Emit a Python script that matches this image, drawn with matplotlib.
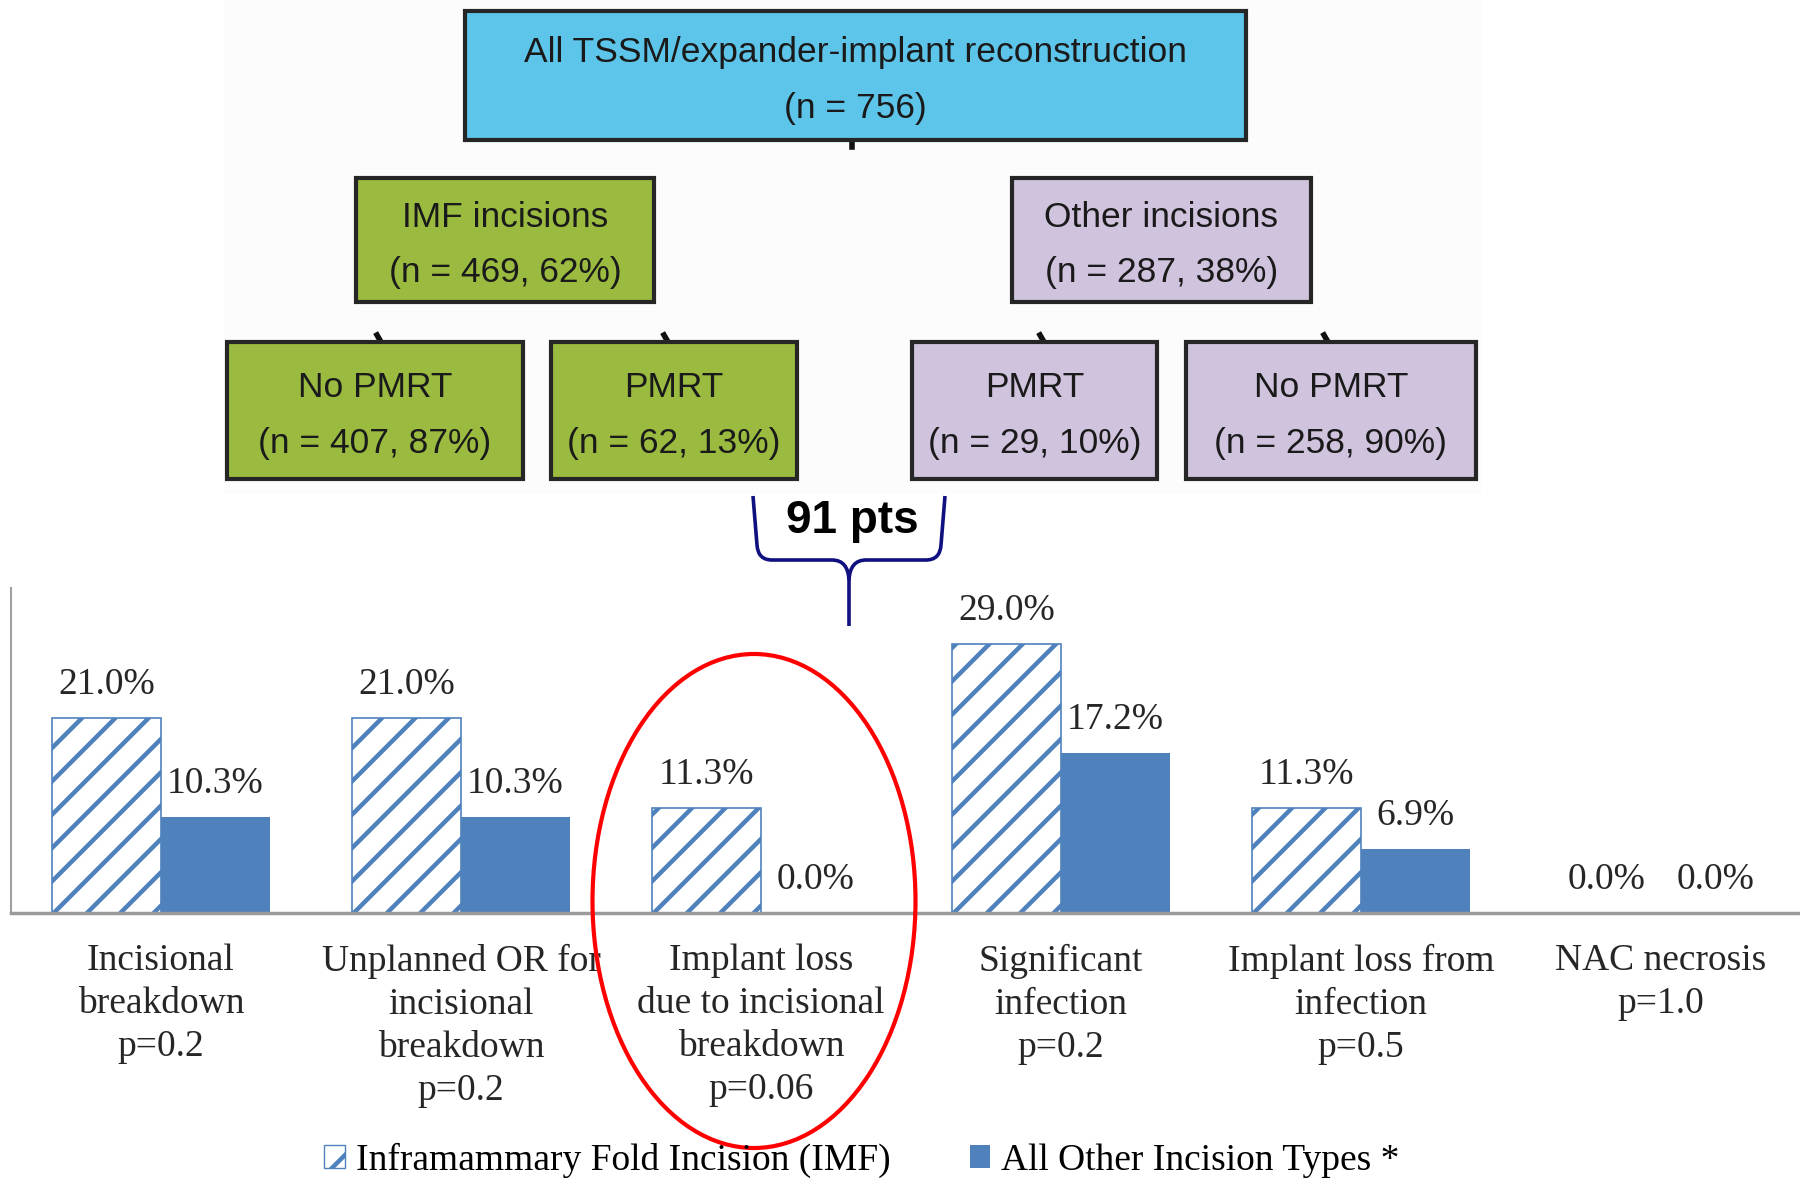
import numpy as np
import matplotlib.pyplot as plt
from matplotlib.patches import Rectangle, Ellipse, Patch, PathPatch
from matplotlib.path import Path

# bar chart data
categories = ["Incisional\nbreakdown\np=0.2",
              "Unplanned OR for\nincisional\nbreakdown\np=0.2",
              "Implant loss\ndue to incisional\nbreakdown\np=0.06",
              "Significant\ninfection\np=0.2",
              "Implant loss from\ninfection\np=0.5",
              "NAC necrosis\np=1.0"]
imf = [21.0, 21.0, 11.3, 29.0, 11.3, 0.0]
other = [10.3, 10.3, 0.0, 17.2, 6.9, 0.0]
series_names = ["Inframammary Fold Incision (IMF)", "All Other Incision Types *"]

# flowchart text
flow_top = "All TSSM/expander-implant reconstruction\n(n = 756)"
flow_mid = ["IMF incisions\n(n = 469, 62%)", "Other incisions\n(n = 287, 38%)"]
flow_low = ["No PMRT\n(n = 407, 87%)", "PMRT\n(n = 62, 13%)",
            "PMRT\n(n = 29, 10%)", "No PMRT\n(n = 258, 90%)"]
brace_label = "91 pts"

BLUE = '#4F81BD'
SKY = '#5DC4EA'
GREEN = '#9BBB40'
LAV = '#CFC3DD'
SERIF = 'Liberation Serif'
SANS = 'Liberation Sans'

plt.rcParams['hatch.linewidth'] = 3.2

W, H = 1800, 1181
fig = plt.figure(figsize=(W / 100, H / 100), dpi=100)

# ---- bar chart ----
ax = fig.add_axes([11 / W, (H - 913) / H, 1.0, (913 - 588) / H])
x = np.arange(len(categories))
w = 0.363
ax.bar(x - w / 2, imf, w, facecolor='white', edgecolor=BLUE, hatch='/', linewidth=1.2)
ax.bar(x + w / 2, other, w, color=BLUE)
for xs, vals in [(x - w / 2, imf), (x + w / 2, other)]:
    for xi, v in zip(xs, vals):
        ax.annotate(f"{v:.1f}%", (xi, v), xytext=(0, 24), textcoords='offset points',
                    ha='center', va='center', fontsize=27, family=SERIF, color='#262626')

ax.set_xlim(-0.5, 5.5)
ax.set_ylim(0, 35)
ax.set_yticks([])
ax.set_xticks(x)
ax.set_xticklabels(categories, fontsize=27, family=SERIF, color='#262626', linespacing=1.32)
ax.tick_params(axis='x', length=0, pad=22)
for s in ['top', 'right']:
    ax.spines[s].set_visible(False)
ax.spines['left'].set_color('#a0a0a0')
ax.spines['left'].set_linewidth(1.5)
ax.spines['bottom'].set_color('#9a9a9a')
ax.spines['bottom'].set_linewidth(2.5)

handles = [Patch(facecolor='white', edgecolor=BLUE, hatch='/', linewidth=1),
           Patch(facecolor=BLUE)]
fig.legend(handles, series_names, loc='center', bbox_to_anchor=(862 / W, (H - 1160) / H),
           ncol=2, frameon=False, prop={'family': SERIF, 'size': 27},
           handlelength=0.55, handleheight=0.55, handletextpad=0.3, columnspacing=2.1)

# ---- flowchart overlay (pixel coordinates) ----
ov = fig.add_axes([0, 0, 1, 1], zorder=5)
ov.set_xlim(0, W)
ov.set_ylim(H, 0)
ov.axis('off')

ov.add_patch(Rectangle((224, 0), 1257, 494, facecolor='#fcfcfc', edgecolor='none', zorder=0))


def box(x0, y0, x1, y1, color, text):
    ov.add_patch(Rectangle((x0, y0), x1 - x0, y1 - y0, facecolor=color,
                           edgecolor='#262626', lw=3, zorder=2))
    ov.text((x0 + x1) / 2, (y0 + y1) / 2 + 5, text, ha='center', va='center',
            fontsize=25.5, family=SANS, color='#1a1a1a', linespacing=1.88, zorder=3)


box(465, 11, 1246, 140, SKY, flow_top)
box(356, 178, 654, 302, GREEN, flow_mid[0])
box(1012, 178, 1311, 302, LAV, flow_mid[1])
low_x = [(227, 523), (551, 797), (912, 1157), (1186, 1476)]
low_c = [GREEN, GREEN, LAV, LAV]
for (x0, x1), c, t in zip(low_x, low_c, flow_low):
    box(x0, 342, x1, 479, c, t)

# connector stubs
ov.plot([852, 852], [140, 147], color='#111111', lw=4, zorder=1)
for cx in [379, 666, 1042, 1326]:
    ov.plot([cx - 2, cx + 2], [335, 342], color='#111111', lw=4, zorder=1)

# brace
verts = [(753, 496), (757, 545), (758, 560), (772, 560), (832, 560), (848, 560), (849, 580), (849, 626),
         (945, 496), (941, 545), (940, 560), (926, 560), (866, 560), (850, 560), (849, 580)]
codes = [Path.MOVETO, Path.LINETO, Path.CURVE3, Path.CURVE3, Path.LINETO, Path.CURVE3, Path.CURVE3, Path.LINETO,
         Path.MOVETO, Path.LINETO, Path.CURVE3, Path.CURVE3, Path.LINETO, Path.CURVE3, Path.CURVE3]
ov.add_patch(PathPatch(Path(verts, codes), fill=False, edgecolor='#101080', lw=2.6, zorder=4))
ov.text(852, 521, brace_label, ha='center', va='center', fontsize=33,
        family=SANS, fontweight='bold', color='black', zorder=4)

# highlight ellipse
ov.add_patch(Ellipse((754, 901), 323, 494, fill=False, edgecolor='#ff0000', lw=3, zorder=4))

fig.savefig('out.png', dpi=100)
